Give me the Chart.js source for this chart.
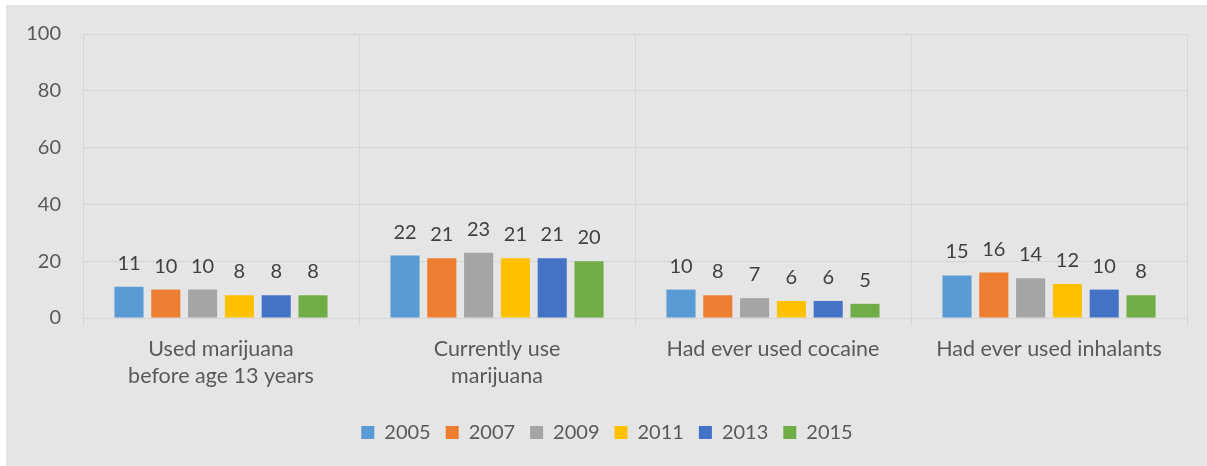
<!DOCTYPE html>
<html>
<head>
<meta charset="utf-8">
<script src="https://cdn.jsdelivr.net/npm/chart.js@4.4.1/dist/chart.umd.min.js"></script>
<style>
  html, body { margin: 0; padding: 0; background: #ffffff; }
  #wrap { position: absolute; left: 6px; top: 5px; width: 1201px; height: 461px; background: #e5e5e5; }
  canvas { display: block; }
</style>
</head>
<body>
<div id="wrap"><canvas id="c" width="1201" height="461"></canvas></div>
<script>
const categories = [
  ["Used marijuana", "before age 13 years"],
  ["Currently use", "marijuana"],
  "Had ever used cocaine",
  "Had ever used inhalants"
];
const years = ["2005", "2007", "2009", "2011", "2013", "2015"];
const values2005 = [11, 22, 10, 15];
const values2007 = [10, 21, 8, 16];
const values2009 = [10, 23, 7, 14];
const values2011 = [8, 21, 6, 12];
const values2013 = [8, 21, 6, 10];
const values2015 = [8, 20, 5, 8];
const yTicks = [0, 20, 40, 60, 80, 100];
const colors = ["#5B9BD5", "#ED7D31", "#A5A5A5", "#FFC000", "#4472C4", "#70AD47"];

const seriesValues = [values2005, values2007, values2009, values2011, values2013, values2015];
const FONT = "Lato, 'Liberation Sans', sans-serif";

const dataLabels = {
  id: "dataLabels",
  afterDatasetsDraw(chart) {
    const ctx = chart.ctx;
    ctx.save();
    ctx.font = "20px " + FONT;
    ctx.fillStyle = "#404040";
    ctx.textAlign = "center";
    ctx.textBaseline = "alphabetic";
    chart.data.datasets.forEach((ds, i) => {
      const meta = chart.getDatasetMeta(i);
      meta.data.forEach((bar, j) => {
        ctx.fillText(String(ds.data[j]), bar.x, bar.y - 17);
      });
    });
    ctx.restore();
  }
};

const legendShift = {
  id: "legendShift",
  afterLayout(chart) {
    if (chart.legend) { chart.legend.left += 10.5; chart.legend.right += 10.5; }
  }
};

new Chart(document.getElementById("c"), {
  type: "bar",
  data: {
    labels: categories,
    datasets: years.map((y, i) => ({
      label: y,
      data: seriesValues[i],
      backgroundColor: colors[i],
      borderWidth: 0,
      categoryPercentage: 0.8,
      barPercentage: 0.79
    }))
  },
  options: {
    responsive: false,
    animation: false,
    layout: { padding: { left: 0, right: 20, top: 29, bottom: 13.5 } },
    plugins: {
      legend: {
        position: "bottom",
        labels: {
          boxWidth: 13,
          boxHeight: 13,
          padding: 15,
          color: "#595959",
          font: { family: FONT, size: 20 }
        }
      },
      tooltip: { enabled: false },
      title: { display: false }
    },
    scales: {
      x: {
        grid: { color: "#d5d5d5", lineWidth: 1, offset: true, drawTicks: true, tickLength: 8 },
        border: { display: false },
        ticks: { color: "#595959", font: { family: FONT, size: 21.5, lineHeight: 1.25 }, padding: 10, maxRotation: 0, autoSkip: false },
        afterFit(scale) { scale.height = 89.5; }
      },
      y: {
        min: 0, max: 100,
        afterBuildTicks(scale) { scale.ticks = yTicks.map(v => ({ value: v })); },
        grid: { color: "#d5d5d5", lineWidth: 1, drawTicks: true, tickLength: 19, tickColor: "rgba(0,0,0,0)" },
        border: { display: false },
        ticks: { color: "#595959", font: { family: FONT, size: 20 }, padding: 3 },
        afterFit(scale) { scale.width = 77; }
      }
    }
  },
  plugins: [dataLabels, legendShift]
});
</script>
</body>
</html>
